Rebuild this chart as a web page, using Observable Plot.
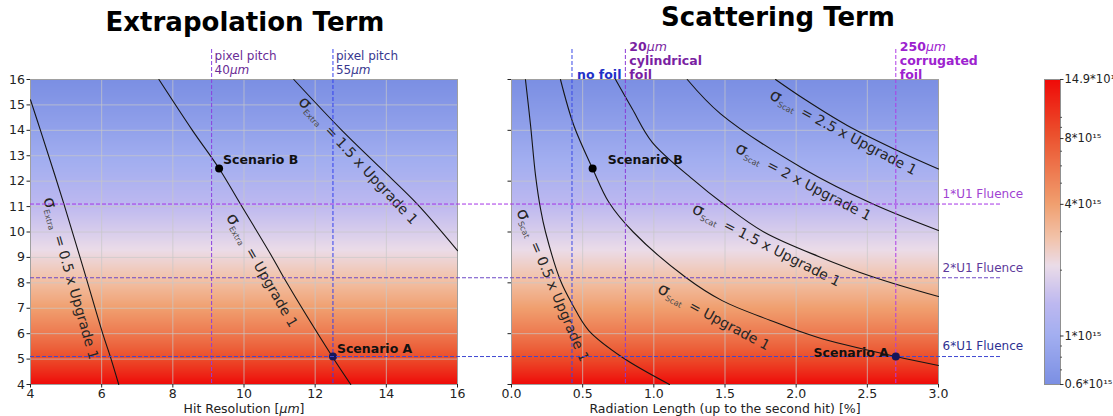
<!DOCTYPE html>
<html>
<head>
<meta charset="utf-8">
<script src="https://cdn.jsdelivr.net/npm/d3@7"></script>
<script src="https://cdn.jsdelivr.net/npm/@observablehq/plot@0.6"></script>
<style>
  html, body { margin: 0; padding: 0; background: #fff; overflow: hidden; }
  #fig { position: relative; width: 1113px; height: 416px; }
  #fig svg { position: absolute; left: 0; top: 0; background: transparent !important; overflow: visible; }
</style>
</head>
<body>
<div id="fig"></div>
<script>
// ---------------- data ----------------
// Radius axis (shared by both panels)
const radiusTicks = [4, 5, 6, 7, 8, 9, 10, 11, 12, 13, 14, 15, 16];
const radiusTicksRight = [4, 6, 8, 10, 12, 14, 16];
const hitTicks = [4, 6, 8, 10, 12, 14, 16];
const radLenTicks = [0, 0.5, 1, 1.5, 2, 2.5, 3];

// Fluence (x10^15) versus radius, used for the background field
const fluenceRadius = [4, 5.1, 8.2, 11.1, 16];
const fluenceValue = [14.9, 8.4, 2.8, 1.4, 0.6];

// Fluence reference levels
const fluenceLevels = [11.1, 8.2, 5.1];
const fluenceLabels = ["1*U1 Fluence", "2*U1 Fluence", "6*U1 Fluence"];

// Extrapolation term: constant sigma contours [hit resolution, radius]
const extraHalf = [[4.0, 15.2], [4.28, 14.0], [4.94, 11.1], [5.5, 8.5], [6.03, 6.0], [6.25, 5.07], [6.48, 4.0]];
const extraU1 = [[7.61, 16], [8.55, 14.0], [9.3, 12.5], [9.9, 11.1], [10.8, 9.0], [11.12, 8.2], [12.48, 5.1], [13.0, 4.0]];
const extra15 = [[11.4, 16], [12.75, 14.0], [13.85, 12.5], [14.87, 11.1], [16.0, 9.27]];

// Scattering term: constant sigma contours [radiation length %, radius]
const scatHalf = [[0.098, 16], [0.134, 14.19], [0.169, 12.22], [0.204, 10.91], [0.239, 10.0], [0.344, 8.09], [0.426, 7.17], [0.543, 6.12], [0.778, 5.07], [1.11, 4.0]];
const scatU1 = [[0.344, 16], [0.438, 14.19], [0.571, 12.48], [0.684, 11.17], [0.855, 10.0], [1.223, 8.22], [1.48, 7.3], [1.82, 6.52], [2.148, 5.86], [2.70, 5.10], [3.0, 4.75]];
const scat15 = [[0.731, 16], [0.848, 14.85], [0.989, 13.53], [1.27, 12.09], [1.49, 11.1], [1.773, 10.0], [2.17, 9.01], [2.546, 8.22], [3.0, 7.46]];
const scat2 = [[1.235, 16], [1.469, 14.65], [2.054, 12.48], [2.54, 11.1], [3.0, 10.06]];
const scat25 = [[1.855, 16], [2.054, 15.24], [2.359, 14.19], [2.687, 13.27], [3.0, 12.48]];

// Contour labels: subscript, level text, anchor (data units), angle
const extraLabels = [
  {sub: "Extra", level: "= 0.5 x Upgrade 1", x: 5.13, y: 8.17, angle: 74},
  {sub: "Extra", level: "= Upgrade 1", x: 10.5, y: 8.48, angle: 60},
  {sub: "Extra", level: "= 1.5 x Upgrade 1", x: 13.2, y: 12.8, angle: 47}
];
const scatLabels = [
  {sub: "Scat", level: "= 0.5 x Upgrade 1", x: 0.288, y: 7.9, angle: 67},
  {sub: "Scat", level: "= Upgrade 1", x: 1.42, y: 6.64, angle: 28},
  {sub: "Scat", level: "= 1.5 x Upgrade 1", x: 1.79, y: 9.47, angle: 27},
  {sub: "Scat", level: "= 2 x Upgrade 1", x: 2.05, y: 11.95, angle: 27.5},
  {sub: "Scat", level: "= 2.5 x Upgrade 1", x: 2.33, y: 13.9, angle: 28}
];

// Working points
const scenarioNames = ["Scenario A", "Scenario B"];
const scenarioRadius = [5.1, 12.5];
const scenarioHitRes = [12.5, 9.3];
const scenarioRadLen = [2.7, 0.57];

// Pixel pitch and foil options
const pitchValues = [9.09, 12.5];
const pitchLabels = ["pixel pitch\n40µm", "pixel pitch\n55µm"];
const foilValues = [0.425, 0.80, 2.70];
const foilLabels = ["no foil", "20µm\ncylindrical\nfoil", "250µm\ncorrugated\nfoil"];

// Colour bar ticks (x10^15)
const barMin = 0.6, barMax = 14.9;
const barTicks = [0.6, 1, 4, 8, 14.9];
const barMinorTicks = [0.7, 0.8, 0.9, 2, 3, 5, 6, 7, 9, 10];

// ---------------- helpers ----------------
const W = 1113, H = 416;
const logFluence = d3.scaleLinear()
  .domain(fluenceRadius.map(Math.log))
  .range(fluenceValue.map(Math.log));
const fluenceAt = (r) => Math.exp(logFluence(Math.log(r)));

const colorOpts = {
  type: "log",
  domain: [0.6, 1.0, 1.4, 2.1, 2.8, 4.0, 8.4, 14.9],
  range: ["#7b8fe3", "#a2aef0", "#bdb8f0", "#ebdce8", "#f2c3aa", "#f0a070", "#eb502d", "#ef0a08"],
  interpolate: "rgb"
};
const baseStyle = {
  fontFamily: "'DejaVu Sans', sans-serif",
  fontSize: "12.5px",
  color: "#222",
  background: "transparent",
  overflow: "visible"
};
const dash = "4,2";
const gridStyle = {stroke: "#c8c8c8", strokeOpacity: 0.7};
const xy = {x: (d) => d[0], y: (d) => d[1]};
const contour = (pts) => Plot.line(pts, {...xy, curve: "catmull-rom", stroke: "#151515", strokeWidth: 1.1});
const contourText = (labels) => Plot.text(labels, {
  x: "x", y: "y", rotate: (d) => d.angle,
  text: (d) => `σ|${d.sub}|${d.level}`,
  fontSize: 14, fill: "#262626"
});
const axisTitle = (label) => Plot.text([label], {frameAnchor: "bottom", lineAnchor: "middle", dy: 24});
const panelTitle = (label, dx, dy) => Plot.text([label], {
  frameAnchor: "top", lineAnchor: "top", dx, dy, fontSize: 26, fontWeight: "bold", fill: "#000"
});

// ---------------- left panel: extrapolation term ----------------
const pitchStyle = [{line: "#8b3fe0", text: "#6a2c96"}, {line: "#3340ee", text: "#38388f"}];
const left = Plot.plot({
  width: W, height: H,
  marginLeft: 30, marginRight: W - 457, marginTop: 79, marginBottom: 32,
  style: baseStyle,
  x: {domain: [4, 16], axis: null},
  y: {domain: [4, 16], axis: null},
  color: colorOpts,
  marks: [
    Plot.raster({x1: 4, x2: 16, y1: 4, y2: 16, fill: (x, y) => fluenceAt(y)}),
    Plot.gridX(hitTicks, gridStyle),
    Plot.gridY(radiusTicks, gridStyle),
    Plot.frame({stroke: "#a0a0a0"}),
    Plot.axisX(hitTicks, {tickSize: 3.5, tickPadding: 1.5, label: null}),
    Plot.axisY(radiusTicks, {tickSize: 3.5, tickPadding: 2, label: null}),
    axisTitle("Hit Resolution [µm]"),
    panelTitle("Extrapolation Term", 1, -67),
    contour(extraHalf), contour(extraU1), contour(extra15),
    contourText(extraLabels),
    ...pitchValues.map((v, i) => Plot.ruleX([v], {stroke: pitchStyle[i].line, strokeDasharray: dash, insetTop: -30})),
    ...pitchValues.map((v, i) => Plot.text([pitchLabels[i]], {
      x: () => v, frameAnchor: "top", dy: -29, dx: 3, textAnchor: "start",
      lineAnchor: "top", lineHeight: 1.15, fontSize: 12, fill: pitchStyle[i].text
    })),
    Plot.dot([0], {x: () => scenarioHitRes[0], y: () => scenarioRadius[0], r: 4, fill: "#15155a"}),
    Plot.dot([1], {x: () => scenarioHitRes[1], y: () => scenarioRadius[1], r: 4, fill: "#000"}),
    Plot.text(scenarioNames, {
      x: (d, i) => scenarioHitRes[i], y: (d, i) => scenarioRadius[i],
      dx: 4, dy: -8, textAnchor: "start", fontWeight: "bold", fontSize: 12.5, fill: "#111"
    })
  ]
});

// ---------------- right panel: scattering term ----------------
const foilStyle = [{line: "#3a48e6", text: "#2230c8"}, {line: "#8a3bd6", text: "#7a1fa2"}, {line: "#b03de6", text: "#9d22cf"}];
const fluenceStyle = [{line: "#a634e6", text: "#a042d2"}, {line: "#6d48c6", text: "#5d3a9b"}, {line: "#3d48d2", text: "#2e3192"}];
const right = Plot.plot({
  width: W, height: H,
  marginLeft: 511, marginRight: W - 938, marginTop: 79, marginBottom: 32,
  style: baseStyle,
  x: {domain: [0, 3], axis: null},
  y: {domain: [4, 16], axis: null},
  color: colorOpts,
  marks: [
    Plot.raster({x1: 0, x2: 3, y1: 4, y2: 16, fill: (x, y) => fluenceAt(y)}),
    Plot.gridX(radLenTicks, gridStyle),
    Plot.gridY(radiusTicksRight, gridStyle),
    Plot.frame({stroke: "#a0a0a0"}),
    Plot.axisX(radLenTicks, {tickSize: 3.5, tickPadding: 1.5, label: null, tickFormat: d3.format(".1f")}),
    Plot.axisY(radiusTicksRight, {tickSize: 3.5, tickPadding: 2, label: null, tickFormat: () => ""}),
    axisTitle("Radiation Length (up to the second hit) [%]"),
    panelTitle("Scattering Term", 53, -72),
    contour(scatHalf), contour(scatU1), contour(scat15), contour(scat2), contour(scat25),
    contourText(scatLabels),
    ...foilValues.map((v, i) => Plot.ruleX([v], {stroke: foilStyle[i].line, strokeDasharray: dash, insetTop: -30})),
    ...foilValues.map((v, i) => Plot.text([foilLabels[i]], {
      x: () => v, frameAnchor: "top", dy: -1, dx: i === 0 ? 5 : 4, textAnchor: "start",
      lineAnchor: "bottom", lineHeight: 1.1, fontSize: 12.5, fontWeight: "bold", fill: foilStyle[i].text
    })),
    ...fluenceLevels.map((v, i) => Plot.ruleY([v], {stroke: fluenceStyle[i].line, strokeDasharray: dash, insetLeft: -481, insetRight: -62})),
    ...fluenceLevels.map((v, i) => Plot.text([fluenceLabels[i]], {
      y: () => v, frameAnchor: "right", lineAnchor: "middle", dx: 4, dy: -10, textAnchor: "start",
      fontSize: 12, fill: fluenceStyle[i].text
    })),
    Plot.dot([0], {x: () => scenarioRadLen[0], y: () => scenarioRadius[0], r: 4, fill: "#15155a"}),
    Plot.dot([1], {x: () => scenarioRadLen[1], y: () => scenarioRadius[1], r: 4, fill: "#000"}),
    Plot.text([scenarioNames[0]], {
      x: () => scenarioRadLen[0], y: () => scenarioRadius[0],
      dx: -7, dy: -4, textAnchor: "end", fontWeight: "bold", fontSize: 12.5, fill: "#111"
    }),
    Plot.text([scenarioNames[1]], {
      x: () => scenarioRadLen[1], y: () => scenarioRadius[1],
      dx: 15, dy: -8, textAnchor: "start", fontWeight: "bold", fontSize: 12.5, fill: "#111"
    })
  ]
});

// ---------------- colour bar (log fluence) ----------------
const barLog = [Math.log10(barMin), Math.log10(barMax)];
const bar = Plot.plot({
  width: W, height: H,
  marginLeft: 1044, marginRight: W - 1060, marginTop: 79, marginBottom: 32,
  style: baseStyle,
  x: {domain: [0, 1], axis: null},
  y: {domain: barLog, axis: null},
  color: colorOpts,
  marks: [
    Plot.raster({x1: 0, x2: 1, y1: barLog[0], y2: barLog[1], fill: (x, y) => 10 ** y}),
    Plot.frame({stroke: "#909090"}),
    Plot.ruleY(barMinorTicks, {y: (v) => Math.log10(v), insetLeft: 16, insetRight: -2, stroke: "#555"}),
    Plot.ruleY(barTicks, {y: (v) => Math.log10(v), insetLeft: 16, insetRight: -3.5, stroke: "#333"}),
    Plot.text(barTicks, {
      y: (v) => Math.log10(v), text: (v) => `${v}*10¹⁵`,
      frameAnchor: "right", lineAnchor: "middle", dx: 4, textAnchor: "start", fontSize: 11.5
    })
  ]
});

// ---------------- rich text: σ subscripts and italic µm ----------------
const SVGNS = "http://www.w3.org/2000/svg";
function richText(svg) {
  d3.select(svg).selectAll("text").each(function () {
    const t = this.textContent;
    if (!t.includes("|")) return;
    const [sym, sub, rest] = t.split("|");
    const sel = d3.select(this).text(null);
    sel.append("tspan").attr("font-size", 17).text(sym);
    sel.append("tspan").attr("font-size", 8).attr("dy", 3).attr("fill", "#4a4a4a").text(sub);
    sel.append("tspan").attr("dy", -3).attr("dx", 7).text(rest);
  });
  d3.select(svg).selectAll("text, tspan").each(function () {
    if (this.childElementCount !== 0 || !this.textContent.includes("µm")) return;
    const parts = this.textContent.split("µm");
    this.textContent = "";
    parts.forEach((p, i) => {
      if (i > 0) {
        const ts = document.createElementNS(SVGNS, "tspan");
        ts.setAttribute("font-style", "italic");
        ts.setAttribute("font-weight", "normal");
        ts.textContent = "µm";
        this.appendChild(ts);
      }
      if (p) this.appendChild(document.createTextNode(p));
    });
  });
}

const fig = document.getElementById("fig");
for (const svg of [left, right, bar]) {
  richText(svg);
  fig.appendChild(svg);
}
</script>
</body>
</html>
